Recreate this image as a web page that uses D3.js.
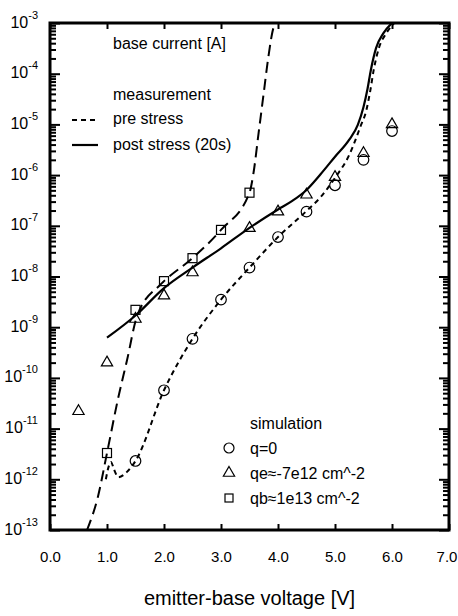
<!DOCTYPE html>
<meta charset="utf-8">
<script src="https://cdn.jsdelivr.net/npm/d3@7"></script>
<style>
  body { margin: 0; background: #fff; }
  text { font-family: "Liberation Sans", Arial, sans-serif; fill: #000; }
</style>
<div id="chart"></div>
<script>

// measured base current, pre stress (short dashes)
var preV = [0.98, 1.03, 1.07, 1.12, 1.2, 1.35, 1.5, 2.0, 2.5, 3.0, 3.5, 4.0, 4.5, 4.75, 5.0, 5.25, 5.45, 5.55, 5.62, 5.68, 5.77, 5.9, 6.04];
var preI = [1.0e-12, 1.8e-12, 2.2e-12, 1.6e-12, 1.1e-12, 1.4e-12, 2.3e-12, 5.7e-11, 5.9e-10, 3.5e-9, 1.5e-8, 6e-8, 1.96e-7, 3.7e-7, 8.8e-7, 2.5e-6, 9.3e-6, 1.9e-5, 4.7e-5, 1.2e-4, 3.2e-4, 6.3e-4, 1e-3];

// measured base current, post stress 20s (solid)
var postV = [1.0, 1.5, 2.0, 2.5, 3.0, 3.5, 4.0, 4.25, 4.5, 4.75, 5.0, 5.25, 5.4, 5.5, 5.57, 5.63, 5.72, 5.85, 6.0];
var postI = [6.2e-10, 1.7e-9, 5.9e-9, 1.5e-8, 3.6e-8, 9.1e-8, 2.1e-7, 3.1e-7, 5.1e-7, 1.05e-6, 2.3e-6, 5.0e-6, 9.8e-6, 2.2e-5, 5.0e-5, 1.2e-4, 3.2e-4, 6.3e-4, 1e-3];

// long dashed simulation curve (qb)
var qbLineV = [0.65, 0.84, 1.0, 1.2, 1.35, 1.53, 1.93, 2.0, 2.5, 3.0, 3.5, 3.57, 3.66, 3.75, 3.83, 3.92, 3.96];
var qbLineI = [1e-13, 4.5e-13, 3.3e-12, 4.2e-11, 2.2e-10, 1.7e-9, 6.8e-9, 8.1e-9, 2.3e-8, 8.3e-8, 4.5e-7, 1.1e-6, 6.8e-6, 4.2e-5, 2.1e-4, 8e-4, 1e-3];

// simulation points
var circV = [1.5, 2.0, 2.5, 3.0, 3.5, 4.0, 4.5, 5.0, 5.5, 6.0];
var circI = [2.3e-12, 5.7e-11, 5.9e-10, 3.5e-9, 1.5e-8, 6e-8, 1.9e-7, 6.3e-7, 2.0e-6, 7.4e-6];
var triV = [0.5, 1.0, 1.5, 2.0, 2.5, 3.5, 4.0, 4.5, 5.0, 5.5, 6.0];
var triI = [2.2e-11, 2.0e-10, 1.45e-9, 4.2e-9, 1.2e-8, 9e-8, 1.9e-7, 4.1e-7, 9.1e-7, 2.7e-6, 1.0e-5];
var sqV = [1.0, 1.5, 2.0, 2.5, 3.0, 3.5];
var sqI = [3.3e-12, 2.2e-9, 8.1e-9, 2.3e-8, 8.3e-8, 4.5e-7];

var xTicks = [0, 1, 2, 3, 4, 5, 6, 7];
var yExponents = [-13, -12, -11, -10, -9, -8, -7, -6, -5, -4, -3];

var W = 458, H = 616;
var pLeft = 50, pRight = 449, pTop = 23, pBottom = 530;

var svg = d3.select("#chart").append("svg")
  .attr("width", W)
  .attr("height", H);

var x = d3.scaleLinear().domain([0, 7]).range([pLeft, pRight]);
var y = d3.scaleLog().domain([1e-13, 1e-3]).range([pBottom, pTop]);

var majors = yExponents.map(function(e) { return Math.pow(10, e); });
var minors = [];
yExponents.slice(0, -1).forEach(function(e) {
  for (var k = 2; k <= 9; k++) minors.push(k * Math.pow(10, e));
});

// axes, ticks pointing inward
function styleAxis(g) {
  g.select(".domain").remove();
  g.selectAll("line").attr("stroke", "#000").attr("stroke-width", 2);
}

var xb = svg.append("g")
  .attr("transform", "translate(0," + pBottom + ")")
  .call(d3.axisBottom(x).tickValues(xTicks).tickSize(-6).tickPadding(21)
    .tickFormat(d3.format(".1f")))
  .call(styleAxis);
xb.selectAll("text").attr("font-size", 15)
  .attr("dx", function(d) { return d === 7 ? -2.5 : 0; });

svg.append("g")
  .attr("transform", "translate(0," + pTop + ")")
  .call(d3.axisTop(x).tickValues(xTicks).tickSize(-6).tickFormat(""))
  .call(styleAxis);

svg.append("g")
  .attr("transform", "translate(" + pLeft + ",0)")
  .call(d3.axisLeft(y).tickValues(minors).tickSize(-6).tickFormat(""))
  .call(styleAxis);

var yl = svg.append("g")
  .attr("transform", "translate(" + pLeft + ",0)")
  .call(d3.axisLeft(y).tickValues(majors).tickSize(-10).tickFormat(""))
  .call(styleAxis);

yl.selectAll(".tick").each(function(d) {
  var e = Math.round(Math.log10(d));
  var t = d3.select(this).append("text")
    .attr("text-anchor", "end")
    .attr("x", -12)
    .attr("y", 4)
    .attr("font-size", 16);
  t.append("tspan").text("10");
  t.append("tspan").attr("dy", -9).attr("font-size", 11).text(String(e));
});

svg.append("g")
  .attr("transform", "translate(" + pRight + ",0)")
  .call(d3.axisRight(y).tickValues(minors).tickSize(-6).tickFormat(""))
  .call(styleAxis);

svg.append("g")
  .attr("transform", "translate(" + pRight + ",0)")
  .call(d3.axisRight(y).tickValues(majors).tickSize(-10).tickFormat(""))
  .call(styleAxis);

// frame
svg.append("rect")
  .attr("x", pLeft).attr("y", pTop)
  .attr("width", pRight - pLeft).attr("height", pBottom - pTop)
  .attr("fill", "none")
  .attr("stroke", "#000")
  .attr("stroke-width", 3);

svg.append("clipPath").attr("id", "clip")
  .append("rect")
  .attr("x", pLeft).attr("y", pTop)
  .attr("width", pRight - pLeft).attr("height", pBottom - pTop);

var line = d3.line()
  .x(function(d) { return x(d[0]); })
  .y(function(d) { return y(d[1]); })
  .curve(d3.curveMonotoneX);

function pairs(a, b) { return a.map(function(v, i) { return [v, b[i]]; }); }

var plot = svg.append("g").attr("clip-path", "url(#clip)");

plot.append("path")
  .attr("d", line(pairs(qbLineV, qbLineI)))
  .attr("fill", "none").attr("stroke", "#000").attr("stroke-width", 2)
  .attr("stroke-dasharray", "11,6");

plot.append("path")
  .attr("d", line(pairs(preV, preI)))
  .attr("fill", "none").attr("stroke", "#000").attr("stroke-width", 2)
  .attr("stroke-dasharray", "5,4");

plot.append("path")
  .attr("d", line(pairs(postV, postI)))
  .attr("fill", "none").attr("stroke", "#000").attr("stroke-width", 2.2);

// markers
var triSym = d3.symbol().type(d3.symbolTriangle).size(55);

plot.selectAll(".circ")
  .data(pairs(circV, circI))
  .enter().append("circle")
    .attr("cx", function(d) { return x(d[0]); })
    .attr("cy", function(d) { return y(d[1]); })
    .attr("r", 5.3)
    .attr("fill", "none")
    .attr("stroke", "#000")
    .attr("stroke-width", 1.2);

plot.selectAll(".tri")
  .data(pairs(triV, triI))
  .enter().append("path")
    .attr("d", triSym)
    .attr("transform", function(d) { return "translate(" + x(d[0]) + "," + y(d[1]) + ")"; })
    .attr("fill", "none")
    .attr("stroke", "#000")
    .attr("stroke-width", 1.2);

plot.selectAll(".sq")
  .data(pairs(sqV, sqI))
  .enter().append("rect")
    .attr("x", function(d) { return x(d[0]) - 4.5; })
    .attr("y", function(d) { return y(d[1]) - 4.5; })
    .attr("width", 9).attr("height", 9)
    .attr("fill", "none")
    .attr("stroke", "#000")
    .attr("stroke-width", 1.2);

// measurement legend
var lg = svg.append("g").attr("font-size", 16);
lg.append("text").attr("x", 113).attr("y", 49).text("base current [A]");
lg.append("text").attr("x", 113).attr("y", 100).text("measurement");
lg.append("text").attr("x", 113).attr("y", 124).text("pre stress");
lg.append("text").attr("x", 113).attr("y", 150).text("post stress (20s)");
lg.append("line").attr("x1", 72).attr("x2", 98).attr("y1", 120).attr("y2", 120)
  .attr("stroke", "#000").attr("stroke-width", 2).attr("stroke-dasharray", "5,4");
lg.append("line").attr("x1", 72).attr("x2", 98).attr("y1", 145).attr("y2", 145)
  .attr("stroke", "#000").attr("stroke-width", 2.2);

// simulation legend
var sl = svg.append("g").attr("font-size", 16);
sl.append("text").attr("x", 250).attr("y", 429).text("simulation");
sl.append("text").attr("x", 250).attr("y", 454).text("q=0");
sl.append("text").attr("x", 250).attr("y", 479).text("qe\u2248-7e12 cm^-2");
sl.append("text").attr("x", 250).attr("y", 504).text("qb\u22481e13 cm^-2");
sl.append("circle").attr("cx", 229).attr("cy", 448).attr("r", 5)
  .attr("fill", "none").attr("stroke", "#000").attr("stroke-width", 1.2);
sl.append("path").attr("d", triSym).attr("transform", "translate(229,473)")
  .attr("fill", "none").attr("stroke", "#000").attr("stroke-width", 1.2);
sl.append("rect").attr("x", 225).attr("y", 494).attr("width", 8).attr("height", 8)
  .attr("fill", "none").attr("stroke", "#000").attr("stroke-width", 1.2);

// x axis title
svg.append("text")
  .attr("x", (pLeft + pRight) / 2)
  .attr("y", 605)
  .attr("text-anchor", "middle")
  .attr("font-size", 20)
  .text("emitter-base voltage [V]");

</script>
